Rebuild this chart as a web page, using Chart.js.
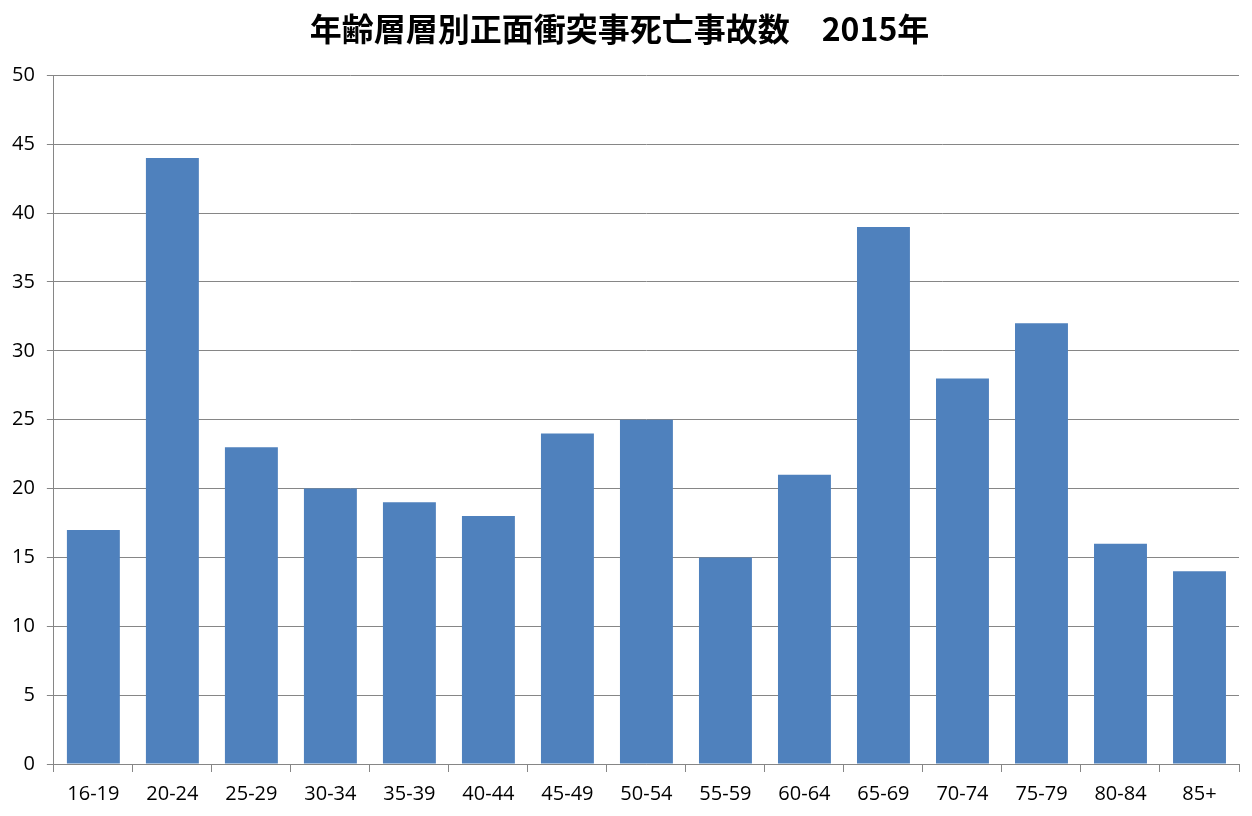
<!DOCTYPE html>
<html lang="ja">
<head>
    <meta charset="UTF-8">
    <title>年齢層層別正面衝突事死亡事故数</title>
    <script src="https://cdn.jsdelivr.net/npm/chart.js"></script>
    <style>
        html, body { margin: 0; padding: 0; background: #fff; }
        #wrap { width: 1252px; height: 816px; }
    </style>
</head>
<body>
    <div id="wrap"><canvas id="chart" width="1252" height="816"></canvas></div>

    <script>
        // 年齢層ごとの死亡事故数 (2015年)
        const ageGroups = ['16-19', '20-24', '25-29', '30-34', '35-39', '40-44', '45-49',
                           '50-54', '55-59', '60-64', '65-69', '70-74', '75-79', '80-84', '85+'];
        const fatalities = [17, 44, 23, 20, 19, 18, 24, 25, 15, 21, 39, 28, 32, 16, 14];
        const yTicks = [0, 5, 10, 15, 20, 25, 30, 35, 40, 45, 50];

        const ctx = document.getElementById('chart').getContext('2d');
        new Chart(ctx, {
            type: 'bar',
            data: {
                labels: ageGroups,
                datasets: [{
                    data: fatalities,
                    backgroundColor: '#4F81BD',
                    borderWidth: 0,
                    categoryPercentage: 0.67,
                    barPercentage: 1.0
                }]
            },
            options: {
                responsive: false,
                animation: false,
                layout: { padding: { left: 0, right: 13, top: 6, bottom: 0 } },
                plugins: {
                    legend: { display: false },
                    tooltip: { enabled: false },
                    title: {
                        display: true,
                        text: '年齢層層別正面衝突事死亡事故数　2015年',
                        color: '#000',
                        font: { family: '"Noto Sans CJK JP"', size: 32, weight: 'bold' },
                        padding: { top: 4, bottom: 27 }
                    }
                },
                scales: {
                    x: {
                        grid: {
                            display: true,
                            offset: true,
                            drawOnChartArea: false,
                            drawTicks: true,
                            tickLength: 8,
                            color: '#868686'
                        },
                        border: { color: '#868686', width: 1 },
                        ticks: {
                            color: '#000',
                            font: { family: '"Open Sans"', size: 20 },
                            padding: 10
                        }
                    },
                    y: {
                        min: 0,
                        max: 50,
                        afterBuildTicks: axis => {
                            axis.ticks = yTicks.map(v => ({ value: v }));
                        },
                        grid: {
                            color: '#868686',
                            tickLength: 7
                        },
                        border: { color: '#868686', width: 1 },
                        ticks: {
                            color: '#000',
                            font: { family: '"Open Sans"', size: 20 },
                            padding: 12
                        }
                    }
                }
            }
        });
    </script>
</body>
</html>
